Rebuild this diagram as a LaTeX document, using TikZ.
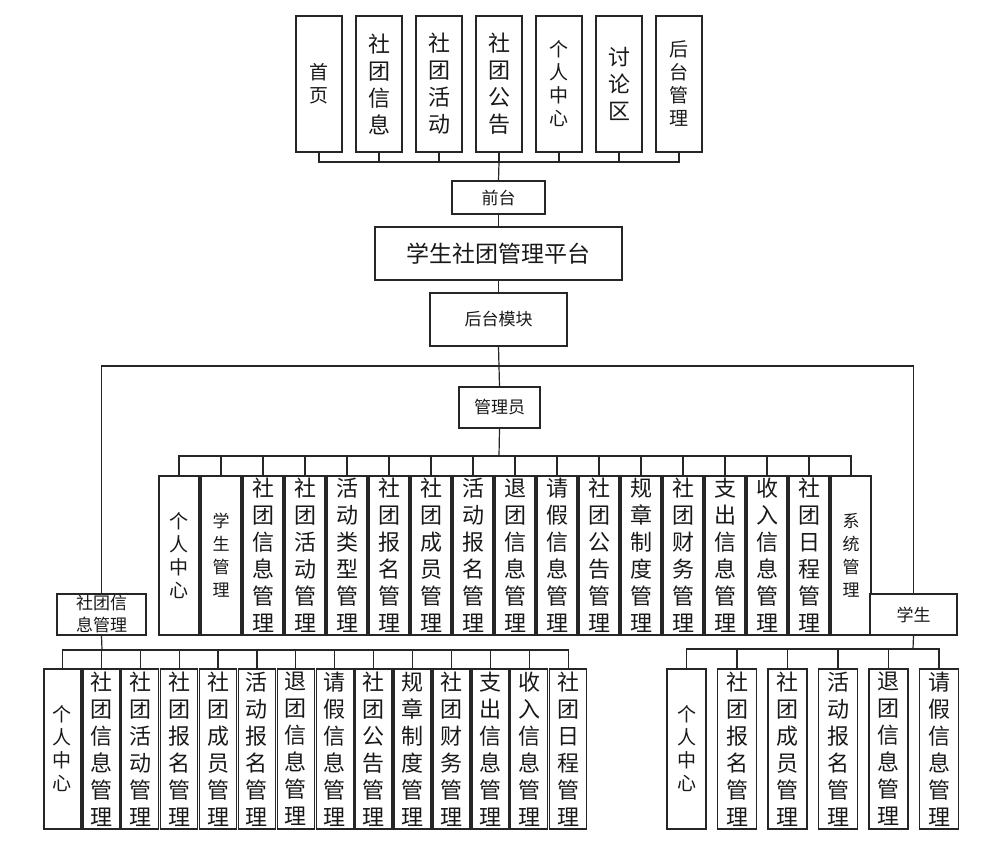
\documentclass[tikz,border=0pt]{standalone}
\usepackage{fontspec}
\setmainfont{Noto Sans CJK SC}
\begin{document}
\begin{tikzpicture}[x=1pt,y=-1pt,
  box/.style={draw=black!85,line width=1.4pt,rectangle,inner sep=0pt,align=center,fill=white,text=black!90},
  conn/.style={draw=black!85,line width=1.2pt},
  fbig/.style={font=\fontsize{22}{27}\selectfont},
  fsm/.style={font=\fontsize{19}{23}\selectfont},
  fxs/.style={font=\fontsize{17}{23}\selectfont},
  flab/.style={font=\fontsize{17}{22}\selectfont},
  tbox/.style={box,minimum width=46pt,minimum height=136pt},
  mbox/.style={box,minimum width=40pt,minimum height=159pt},
  lbox/.style={box,minimum width=37pt,minimum height=160pt},
  rbox/.style={box,minimum width=39pt,minimum height=160pt}
]
\useasboundingbox (0,0) rectangle (993,846);

% top row
\node[tbox,fsm]  (t1) at (319,84) {首\\页};
\node[tbox,fbig] (t2) at (379,84) {社\\团\\信\\息};
\node[tbox,fbig] (t3) at (439,84) {社\\团\\活\\动};
\node[tbox,fbig] (t4) at (499,84) {社\\团\\公\\告};
\node[tbox,fsm]  (t5) at (559,84) {个\\人\\中\\心};
\node[tbox,fbig] (t6) at (619,84) {讨\\论\\区};
\node[tbox,fsm]  (t7) at (679,84) {后\\台\\管\\理};

\node[box,flab,minimum width=93pt,minimum height=33pt] (qt) at (498.5,197.5) {前台};
\node[box,font=\fontsize{23}{27}\selectfont,minimum width=247pt,minimum height=53pt] (pt) at (498.5,253.5) {学生社团管理平台};
\node[box,flab,minimum width=137pt,minimum height=53pt] (ht) at (498.5,319.5) {后台模块};
\node[box,flab,minimum width=81pt,minimum height=41pt] (gly) at (499.5,407.5) {管理员};

\coordinate (busT) at (499,162);
\coordinate (hbar) at (499,366);
\coordinate (busM) at (499,456);
\coordinate (busL) at (102,650);
\coordinate (busR) at (913,649);

% middle row
\node[mbox,fsm]  (m0)  at (179,555.5) {个\\人\\中\\心};
\node[mbox,fxs]  (m1)  at (221,555.5) {学\\生\\管\\理};
\node[mbox,fbig] (m2)  at (263,555.5) {社\\团\\信\\息\\管\\理};
\node[mbox,fbig] (m3)  at (305,555.5) {社\\团\\活\\动\\管\\理};
\node[mbox,fbig] (m4)  at (347,555.5) {活\\动\\类\\型\\管\\理};
\node[mbox,fbig] (m5)  at (389,555.5) {社\\团\\报\\名\\管\\理};
\node[mbox,fbig] (m6)  at (431,555.5) {社\\团\\成\\员\\管\\理};
\node[mbox,fbig] (m7)  at (473,555.5) {活\\动\\报\\名\\管\\理};
\node[mbox,fbig] (m8)  at (515,555.5) {退\\团\\信\\息\\管\\理};
\node[mbox,fbig] (m9)  at (557,555.5) {请\\假\\信\\息\\管\\理};
\node[mbox,fbig] (m10) at (599,555.5) {社\\团\\公\\告\\管\\理};
\node[mbox,fbig] (m11) at (641,555.5) {规\\章\\制\\度\\管\\理};
\node[mbox,fbig] (m12) at (683,555.5) {社\\团\\财\\务\\管\\理};
\node[mbox,fbig] (m13) at (725,555.5) {支\\出\\信\\息\\管\\理};
\node[mbox,fbig] (m14) at (767,555.5) {收\\入\\信\\息\\管\\理};
\node[mbox,fbig] (m15) at (809,555.5) {社\\团\\日\\程\\管\\理};
\node[mbox,fxs]  (m16) at (851,555.5) {系\\统\\管\\理};

\node[box,flab,minimum width=89pt,minimum height=41pt] (sj) at (101.5,614.5) {社团信\\息管理};
\node[box,flab,minimum width=87pt,minimum height=41pt] (xs) at (913.5,614.5) {学生};

% bottom left
\node[lbox,fsm]  (l0)  at (62.4,749) {个\\人\\中\\心};
\node[lbox,fbig] (l1)  at (101.3,749) {社\\团\\信\\息\\管\\理};
\node[lbox,fbig] (l2)  at (140.2,749) {社\\团\\活\\动\\管\\理};
\node[lbox,fbig] (l3)  at (179.1,749) {社\\团\\报\\名\\管\\理};
\node[lbox,fbig] (l4)  at (218.0,749) {社\\团\\成\\员\\管\\理};
\node[lbox,fbig] (l5)  at (256.9,749) {活\\动\\报\\名\\管\\理};
\node[lbox,fbig] (l6)  at (295.8,749) {退\\团\\信\\息\\管\\理};
\node[lbox,fbig] (l7)  at (334.7,749) {请\\假\\信\\息\\管\\理};
\node[lbox,fbig] (l8)  at (373.6,749) {社\\团\\公\\告\\管\\理};
\node[lbox,fbig] (l9)  at (412.5,749) {规\\章\\制\\度\\管\\理};
\node[lbox,fbig] (l10) at (451.4,749) {社\\团\\财\\务\\管\\理};
\node[lbox,fbig] (l11) at (490.3,749) {支\\出\\信\\息\\管\\理};
\node[lbox,fbig] (l12) at (529.2,749) {收\\入\\信\\息\\管\\理};
\node[lbox,fbig] (l13) at (568.1,749) {社\\团\\日\\程\\管\\理};

% bottom right
\node[rbox,fsm]  (r0) at (686.5,749) {个\\人\\中\\心};
\node[rbox,fbig] (r1) at (737,749)   {社\\团\\报\\名\\管\\理};
\node[rbox,fbig] (r2) at (787.5,749) {社\\团\\成\\员\\管\\理};
\node[rbox,fbig] (r3) at (838,749)   {活\\动\\报\\名\\管\\理};
\node[rbox,fbig] (r4) at (888.5,749) {退\\团\\信\\息\\管\\理};
\node[rbox,fbig] (r5) at (939,749)   {请\\假\\信\\息\\管\\理};

% connectors
\foreach \i in {1,...,7} \draw[conn] (t\i.south) |- (busT);
\draw[conn] (busT) -- (qt.north);
\draw[conn] (qt.south) -- (pt.north);
\draw[conn] (pt.south) -- (ht.north);
\draw[conn] (ht.south) -- (gly.north);
\draw[conn] (sj.north) |- (hbar) -| (xs.north);
\draw[conn] (gly.south) -- (busM);
\foreach \i in {0,...,16} \draw[conn] (m\i.north) |- (busM);
\draw[conn] (sj.south) -- (busL);
\foreach \i in {0,...,13} \draw[conn] (l\i.north) |- (busL);
\draw[conn] (xs.south) -- (busR);
\foreach \i in {0,...,5} \draw[conn] (r\i.north) |- (busR);
\end{tikzpicture}
\end{document}
